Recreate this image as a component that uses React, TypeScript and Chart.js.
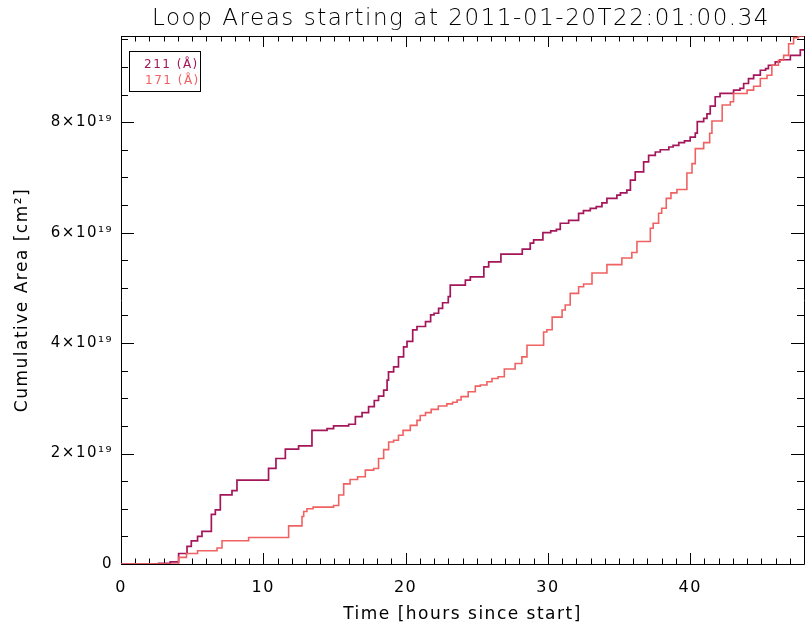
import React, { useEffect, useRef } from 'react';
import { Chart, registerables } from 'chart.js';

Chart.register(...registerables);

const TITLE = 'Loop Areas starting at 2011-01-20T22:01:00.34';
const X_TITLE = 'Time [hours since start]';
const Y_TITLE = 'Cumulative Area [cm²]';
const SERIES_LABELS = ['211 (Å)', '171 (Å)'];
const X_MAX = 48;
const Y_MAX = 9.56; // units of 1e19 cm^2
const X_MAJOR = [0, 10, 20, 30, 40];
const Y_MAJOR = [0, 2, 4, 6, 8];
const X_MINOR_STEP = 1;
const Y_MINOR_STEP = 0.5;

const hours211 = [0, 2.64, 3.46, 4.05, 4.64, 4.94, 5.38, 5.69, 6.35, 6.63, 6.98, 7.8, 8.15, 10.37, 10.89, 11.55, 12.48, 13.42, 14.48, 14.94, 16.0, 16.47, 16.94, 17.4, 17.8, 18.1, 18.46, 18.7, 18.8, 19.16, 19.5, 19.86, 20.1, 20.5, 20.8, 21.4, 21.76, 22.0, 22.32, 22.6, 23.0, 23.14, 24.2, 24.55, 25.5, 25.84, 26.7, 28.2, 28.76, 29.0, 29.65, 30.2, 30.6, 30.87, 31.46, 32.16, 32.5, 32.98, 33.4, 33.8, 34.15, 34.85, 35.1, 35.55, 35.8, 36.14, 36.73, 37.08, 37.55, 37.9, 38.5, 38.8, 39.2, 39.6, 40.0, 40.36, 40.5, 40.95, 41.18, 41.41, 41.76, 42.1, 43.05, 43.5, 43.76, 44.1, 44.46, 44.93, 45.3, 45.5, 45.98, 46.3, 47.04, 47.74, 48];
const area211 = [0, 0.01, 0.04, 0.19, 0.32, 0.42, 0.5, 0.59, 0.9, 0.98, 1.25, 1.33, 1.52, 1.73, 1.91, 2.08, 2.14, 2.42, 2.45, 2.5, 2.53, 2.67, 2.74, 2.85, 2.96, 3.04, 3.15, 3.33, 3.48, 3.57, 3.75, 3.93, 4.03, 4.24, 4.3, 4.39, 4.51, 4.54, 4.63, 4.73, 4.84, 5.05, 5.14, 5.2, 5.38, 5.47, 5.61, 5.7, 5.81, 5.87, 6.0, 6.03, 6.06, 6.17, 6.22, 6.35, 6.4, 6.44, 6.47, 6.54, 6.62, 6.68, 6.72, 6.77, 6.95, 7.1, 7.28, 7.4, 7.46, 7.5, 7.55, 7.58, 7.63, 7.66, 7.73, 7.8, 8.01, 8.07, 8.15, 8.29, 8.46, 8.52, 8.58, 8.61, 8.7, 8.79, 8.85, 8.94, 8.97, 9.03, 9.09, 9.13, 9.21, 9.31, 9.31];

const hours171 = [0, 4.05, 4.6, 5.38, 6.75, 7.1, 8.97, 11.78, 12.72, 12.84, 13.07, 13.5, 14.94, 15.3, 15.65, 16.1, 16.63, 17.17, 17.76, 18.1, 18.46, 18.81, 19.16, 19.5, 19.82, 20.33, 20.8, 21.03, 21.4, 21.8, 22.3, 22.9, 23.3, 23.62, 23.9, 24.4, 24.9, 25.25, 25.72, 26.07, 26.5, 26.94, 27.7, 28.17, 28.53, 29.7, 29.93, 30.3, 31.0, 31.22, 31.57, 32.16, 32.51, 33.1, 34.15, 35.2, 35.9, 36.26, 37.2, 37.4, 37.78, 38.0, 38.32, 38.65, 39.07, 39.77, 40.13, 40.36, 40.95, 41.37, 41.53, 42.25, 42.82, 43.05, 44.0, 44.46, 44.93, 45.4, 45.74, 46.2, 46.57, 46.92, 47.27, 47.6, 48];
const area171 = [0, 0.12, 0.19, 0.24, 0.29, 0.42, 0.48, 0.69, 0.86, 0.95, 1.0, 1.03, 1.06, 1.25, 1.45, 1.53, 1.58, 1.7, 1.73, 1.91, 2.07, 2.21, 2.24, 2.33, 2.42, 2.51, 2.6, 2.69, 2.74, 2.8, 2.86, 2.9, 2.93, 2.97, 3.03, 3.12, 3.22, 3.24, 3.3, 3.36, 3.39, 3.53, 3.63, 3.75, 3.96, 4.2, 4.24, 4.47, 4.6, 4.69, 4.9, 5.02, 5.07, 5.27, 5.42, 5.54, 5.64, 5.84, 6.08, 6.17, 6.35, 6.44, 6.62, 6.72, 6.78, 7.08, 7.25, 7.52, 7.63, 7.8, 8.02, 8.31, 8.37, 8.52, 8.58, 8.65, 8.79, 8.85, 9.03, 9.12, 9.21, 9.42, 9.53, 9.56, 9.56];

const COLOR_211 = '#a3165a';
const COLOR_171 = '#f06262';
const FONT = 'DejaVu Sans';
const TITLE_WEIGHT = '200';
const TEXT_WEIGHT = 'normal';

const framePlugin = {
  id: 'idlFrame',
  beforeDraw(chart: any) {
    chart.ctx.letterSpacing = '1.5px';
  },
  beforeDatasetsDraw(chart: any) {
    const { ctx, chartArea } = chart;
    const { left, right, top, bottom } = chartArea;
    const xs = chart.scales.x;
    const ys = chart.scales.y;
    ctx.save();
    ctx.strokeStyle = '#000';
    ctx.lineWidth = 1;
    ctx.beginPath();
    ctx.rect(Math.round(left) + 0.5, Math.round(top) + 0.5, Math.round(right - left), Math.round(bottom - top));
    ctx.stroke();
    ctx.beginPath();
    for (let v = 0; v <= X_MAX + 1e-9; v += X_MINOR_STEP) {
      const px = Math.round(xs.getPixelForValue(v)) + 0.5;
      const major = X_MAJOR.some((m) => Math.abs(m - v) < 1e-9);
      const len = major ? 11 : 5.5;
      ctx.moveTo(px, bottom);
      ctx.lineTo(px, bottom - len);
      ctx.moveTo(px, top);
      ctx.lineTo(px, top + len);
    }
    for (let v = 0; v <= Y_MAX + 1e-9; v += Y_MINOR_STEP) {
      const py = Math.round(ys.getPixelForValue(v)) + 0.5;
      const major = Y_MAJOR.some((m) => Math.abs(m - v) < 1e-9);
      const len = major ? 13 : 7;
      ctx.moveTo(left, py);
      ctx.lineTo(left + len, py);
      ctx.moveTo(right, py);
      ctx.lineTo(right - len, py);
    }
    ctx.stroke();
    ctx.restore();
  },
  afterDraw(chart: any) {
    const { ctx } = chart;
    ctx.save();
    ctx.font = `${TITLE_WEIGHT} 23px "${FONT}"`;
    ctx.letterSpacing = '1.55px';
    ctx.fillStyle = '#000';
    ctx.textBaseline = 'alphabetic';
    ctx.textAlign = 'left';
    const w = ctx.measureText(TITLE).width;
    ctx.fillText(TITLE, 461 - w / 2, 25);
    ctx.letterSpacing = '1.5px';
    ctx.strokeStyle = '#000';
    ctx.lineWidth = 1;
    ctx.strokeRect(129.5, 51.5, 71, 40);
    ctx.font = `${TEXT_WEIGHT} 12px "${FONT}"`;
    ctx.fillStyle = COLOR_211;
    ctx.fillText(SERIES_LABELS[0], 144, 68);
    ctx.fillStyle = COLOR_171;
    ctx.fillText(SERIES_LABELS[1], 145, 84);
    ctx.restore();
  },
};

export default function App() {
  const ref = useRef<HTMLCanvasElement>(null);
  useEffect(() => {
    const canvas = ref.current;
    if (!canvas) return;
    const chart = new Chart(canvas, {
      type: 'line',
      data: {
        datasets: [
          {
            label: SERIES_LABELS[0],
            data: hours211.map((h, i) => ({ x: h, y: area211[i] })),
            borderColor: COLOR_211,
            borderWidth: 1.7,
            stepped: 'before',
            pointRadius: 0,
            fill: false,
            order: 1,
          },
          {
            label: SERIES_LABELS[1],
            data: hours171.map((h, i) => ({ x: h, y: area171[i] })),
            borderColor: COLOR_171,
            borderWidth: 1.6,
            stepped: 'before',
            pointRadius: 0,
            fill: false,
            order: 0,
          },
        ],
      },
      options: {
        animation: false,
        responsive: false,
        devicePixelRatio: 1,
        layout: { padding: { left: 0, right: 3, top: 36, bottom: 0 } },
        plugins: {
          legend: { display: false },
          title: { display: false },
          tooltip: { enabled: false },
        },
        scales: {
          x: {
            type: 'linear',
            min: 0,
            max: X_MAX,
            afterFit: (s: any) => {
              s.height = 66;
            },
            afterBuildTicks: (s: any) => {
              s.ticks = X_MAJOR.map((v) => ({ value: v }));
            },
            grid: { display: false, drawTicks: false },
            border: { display: false },
            ticks: {
              padding: 14,
              color: '#000',
              maxRotation: 0,
              autoSkip: false,
              font: { family: FONT, size: 16, weight: TEXT_WEIGHT },
            },
            title: {
              display: true,
              text: X_TITLE,
              color: '#000',
              font: { family: FONT, size: 17, weight: TEXT_WEIGHT },
              padding: { top: 0, bottom: 5 },
            },
          },
          y: {
            type: 'linear',
            min: 0,
            max: Y_MAX,
            afterFit: (s: any) => {
              s.width = 121;
            },
            afterBuildTicks: (s: any) => {
              s.ticks = Y_MAJOR.map((v) => ({ value: v }));
            },
            grid: { display: false, drawTicks: false },
            border: { display: false },
            ticks: {
              padding: 8,
              color: '#000',
              autoSkip: false,
              font: { family: FONT, size: 15, weight: TEXT_WEIGHT },
              callback: (v: any) => (Number(v) === 0 ? '0' : `${v}×10¹⁹`),
            },
            title: {
              display: true,
              text: Y_TITLE,
              color: '#000',
              font: { family: FONT, size: 17, weight: TEXT_WEIGHT },
              padding: { top: 12, bottom: 0 },
            },
          },
        },
      },
      plugins: [framePlugin],
    } as any);
    return () => chart.destroy();
  }, []);
  return (
    <div style={{ position: 'absolute', left: 0, top: 0, width: 807, height: 630, background: '#fff' }}>
      <canvas ref={ref} width={807} height={630} style={{ display: 'block' }} />
    </div>
  );
}
